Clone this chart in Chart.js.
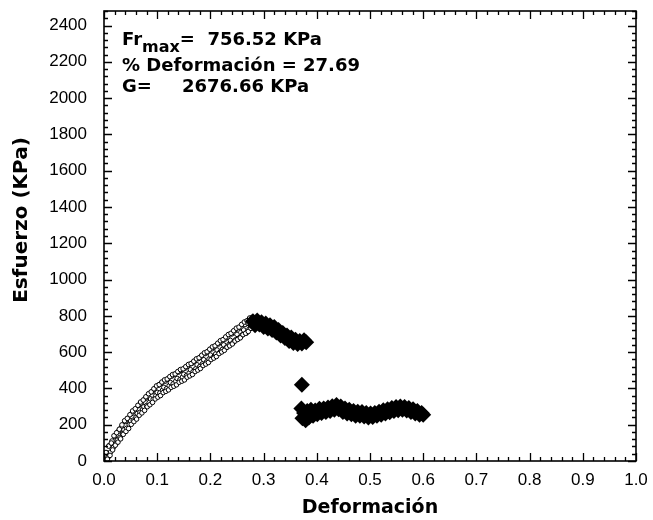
<!DOCTYPE html>
<html>
<head>
<meta charset="utf-8">
<script src="https://cdn.jsdelivr.net/npm/chart.js@4.4.1/dist/chart.umd.min.js"></script>
<style>
html,body{margin:0;padding:0;background:#fff;}
#c{display:block;}
</style>
</head>
<body>
<canvas id="c" width="653" height="520"></canvas>
<script>
// ---- data ----
const xTitle = 'Deformación';
const yTitle = 'Esfuerzo (KPa)';
const xRange = [0, 1.0];
const yRange = [0, 2480];
const xTickStep = 0.1;
const yTickStep = 200;
const frMaxText = '756.52 KPa';
const deformText = '% Deformación = 27.69';
const gText = '2676.66 KPa';

// loading stage (open markers), first strand of the speckled band
const loadingX = [0.0000,0.0025,0.0050,0.0075,0.0100,0.0125,0.0150,0.0175,0.0200,0.0225,0.0250,0.0275,0.0300,0.0325,0.0350,0.0375,0.0400,0.0425,0.0450,0.0475,0.0500,0.0525,0.0550,0.0575,0.0600,0.0625,0.0650,0.0675,0.0700,0.0725,0.0750,0.0775,0.0800,0.0825,0.0850,0.0875,0.0900,0.0925,0.0950,0.0975,0.1000,0.1025,0.1050,0.1075,0.1100,0.1125,0.1150,0.1175,0.1200,0.1225,0.1250,0.1275,0.1300,0.1325,0.1350,0.1375,0.1400,0.1425,0.1450,0.1475,0.1500,0.1525,0.1550,0.1575,0.1600,0.1625,0.1650,0.1675,0.1700,0.1725,0.1750,0.1775,0.1800,0.1825,0.1850,0.1875,0.1900,0.1925,0.1950,0.1975,0.2000,0.2025,0.2050,0.2075,0.2100,0.2125,0.2150,0.2175,0.2200,0.2225,0.2250,0.2275,0.2300,0.2325,0.2350,0.2375,0.2400,0.2425,0.2450,0.2475,0.2500,0.2525,0.2550,0.2575,0.2600,0.2625,0.2650,0.2675,0.2700,0.2725,0.2750,0.2775,0.2800];
const loadingY = [10,-15,45,20,85,50,110,75,135,95,115,165,130,185,150,172,218,180,235,200,222,262,225,275,240,262,305,268,318,282,300,345,305,355,322,342,382,340,395,360,378,418,375,428,390,406,440,398,452,415,432,468,425,478,440,455,490,447,500,462,478,512,470,522,485,503,538,492,548,508,530,565,520,575,535,558,592,545,602,562,584,618,570,628,590,612,645,598,655,615,640,672,625,682,642,665,700,652,708,668,698,728,680,735,695,722,752,705,760,725,748,782,760];
// second strand of the same band
const loadingX2 = [0.00125,0.00375,0.00625,0.00875,0.01125,0.01375,0.01625,0.01875,0.02125,0.02375,0.02625,0.02875,0.03125,0.03375,0.03625,0.03875,0.04125,0.04375,0.04625,0.04875,0.05125,0.05375,0.05625,0.05875,0.06125,0.06375,0.06625,0.06875,0.07125,0.07375,0.07625,0.07875,0.08125,0.08375,0.08625,0.08875,0.09125,0.09375,0.09625,0.09875,0.10125,0.10375,0.10625,0.10875,0.11125,0.11375,0.11625,0.11875,0.12125,0.12375,0.12625,0.12875,0.13125,0.13375,0.13625,0.13875,0.14125,0.14375,0.14625,0.14875,0.15125,0.15375,0.15625,0.15875,0.16125,0.16375,0.16625,0.16875,0.17125,0.17375,0.17625,0.17875,0.18125,0.18375,0.18625,0.18875,0.19125,0.19375,0.19625,0.19875,0.20125,0.20375,0.20625,0.20875,0.21125,0.21375,0.21625,0.21875,0.22125,0.22375,0.22625,0.22875,0.23125,0.23375,0.23625,0.23875,0.24125,0.24375,0.24625,0.24875,0.25125,0.25375,0.25625,0.25875,0.26125,0.26375,0.26625,0.26875,0.27125,0.27375,0.27625,0.27875];
const loadingY2 = [-10,47,10,82,31,99,61,139,87,156,104,175,122,199,147,222,163,235,179,255,202,276,217,288,231,307,252,325,265,336,279,354,299,371,310,381,323,398,342,414,352,421,361,435,377,447,384,452,392,465,406,476,412,480,420,493,434,504,440,508,447,520,462,532,469,537,477,550,493,563,501,569,510,583,526,596,534,602,543,616,559,629,567,635,576,649,592,663,601,669,610,684,627,697,635,704,645,718,661,732,670,738,679,753,696,766,704,773,714,788,731,792];

// post-peak stage (solid diamonds)
const failureX = [0.280,0.284,0.288,0.292,0.296,0.300,0.304,0.308,0.312,0.316,0.320,0.324,0.328,0.332,0.336,0.340,0.344,0.348,0.352,0.356,0.360,0.364,0.368,0.372,0.376,0.380,
  0.372,
  0.371,0.373,0.376,0.379,0.382,0.385,0.389,0.393,0.397,0.401,0.405,0.409,0.413,0.417,0.421,0.425,0.429,0.433,0.437,0.441,0.445,0.449,0.453,0.457,0.461,0.465,0.469,0.473,0.477,0.481,0.485,0.489,0.493,0.497,0.501,0.505,0.509,0.513,0.517,0.521,0.525,0.529,0.533,0.537,0.541,0.545,0.549,0.553,0.557,0.561,0.565,0.569,0.573,0.577,0.581,0.585,0.589,0.593,0.597,0.600];
const failureY = [770,748,775,752,765,738,758,730,748,722,738,708,722,692,705,678,692,662,680,650,668,645,662,648,665,655,
  420,
  290,235,265,225,275,240,282,250,278,258,288,265,290,270,295,275,302,282,308,285,300,270,290,262,282,258,275,250,272,250,270,245,265,240,262,242,265,250,272,255,280,262,285,268,292,275,298,280,300,282,298,278,292,270,285,262,275,255,265,255];

const loadingPts = loadingX.map((x, i) => ({x, y: loadingY[i]}))
  .concat(loadingX2.map((x, i) => ({x, y: loadingY2[i]})));
const failurePts = failureX.map((x, i) => ({x, y: failureY[i]}));

const TICKFONT = "'Liberation Sans', Arial, Helvetica, sans-serif";
const BOLDFONT = "'DejaVu Sans', Verdana, sans-serif";

// inward ticks on all four sides, frame, y title and the info text
const frameTicks = {
  id: 'frameTicks',
  afterDraw(chart) {
    const {ctx, chartArea: a, scales: {x, y}} = chart;
    ctx.save();
    ctx.strokeStyle = '#000';
    ctx.lineWidth = 1.3;
    for (let i = 0; i <= 50; i++) {
      const px = Math.round(x.getPixelForValue(i / 50)) + 0.5;
      const len = (i % 5 === 0) ? 8 : 4;
      ctx.beginPath();
      ctx.moveTo(px, a.bottom); ctx.lineTo(px, a.bottom - len);
      ctx.moveTo(px, a.top); ctx.lineTo(px, a.top + len);
      ctx.stroke();
    }
    for (let i = 0; i * 40 <= yRange[1]; i++) {
      const py = Math.round(y.getPixelForValue(i * 40)) + 0.5;
      const len = (i % 5 === 0) ? 8 : 4;
      ctx.beginPath();
      ctx.moveTo(a.left, py); ctx.lineTo(a.left + len, py);
      ctx.moveTo(a.right, py); ctx.lineTo(a.right - len, py);
      ctx.stroke();
    }
    ctx.lineWidth = 1.6;
    ctx.strokeRect(a.left, a.top, a.right - a.left, a.bottom - a.top);

    ctx.fillStyle = '#000';
    // y axis title
    ctx.save();
    ctx.translate(22, (a.top + a.bottom) / 2 - 16);
    ctx.rotate(-Math.PI / 2);
    ctx.font = "bold 20px " + BOLDFONT;
    ctx.textAlign = 'center';
    ctx.textBaseline = 'middle';
    ctx.fillText(yTitle, 0, 0);
    ctx.restore();

    ctx.textBaseline = 'alphabetic';
    ctx.textAlign = 'left';
    const tx = a.left + 18;
    ctx.font = "bold 18px " + BOLDFONT;
    ctx.fillText('Fr', tx, a.top + 34);
    let w = ctx.measureText('Fr').width;
    ctx.font = "bold 16px " + BOLDFONT;
    ctx.fillText('max', tx + w, a.top + 41);
    w += ctx.measureText('max').width;
    ctx.font = "bold 18px " + BOLDFONT;
    ctx.fillText('=  ' + frMaxText, tx + w, a.top + 34);
    ctx.fillText(deformText, tx, a.top + 60);
    ctx.fillText('G=', tx, a.top + 81);
    ctx.fillText(gText, tx + 60, a.top + 81);
    ctx.restore();
  }
};

new Chart(document.getElementById('c'), {
  type: 'scatter',
  data: {
    datasets: [
      {
        label: 'carga',
        data: loadingPts,
        pointStyle: 'circle',
        pointRadius: 2.3,
        pointBorderWidth: 1,
        pointBorderColor: '#000',
        pointBackgroundColor: '#fff',
        showLine: false,
        order: 2
      },
      {
        label: 'falla',
        data: failurePts,
        pointStyle: 'rectRot',
        pointRadius: 8,
        pointBorderWidth: 0,
        pointBorderColor: '#000',
        pointBackgroundColor: '#000',
        showLine: false,
        order: 1
      }
    ]
  },
  options: {
    responsive: false,
    animation: false,
    events: [],
    layout: {padding: {left: 0, top: 11, right: 17, bottom: 0}},
    plugins: {legend: {display: false}, tooltip: {enabled: false}},
    scales: {
      x: {
        type: 'linear',
        min: xRange[0], max: xRange[1],
        grid: {display: false, drawTicks: false},
        border: {display: false},
        ticks: {
          stepSize: xTickStep,
          includeBounds: false,
          padding: 9,
          color: '#000',
          font: {family: TICKFONT, size: 17},
          callback: v => Number(v).toFixed(1)
        },
        title: {display: true, text: xTitle, color: '#000',
          font: {family: BOLDFONT, size: 19, weight: 'bold'}, padding: {top: 0, bottom: 1}},
        afterFit: s => { s.height = 59; s.paddingLeft = 0; s.paddingRight = 0; }
      },
      y: {
        type: 'linear',
        min: yRange[0], max: yRange[1],
        grid: {display: false, drawTicks: false},
        border: {display: false},
        ticks: {
          stepSize: yTickStep,
          includeBounds: false,
          padding: 17,
          color: '#000',
          font: {family: TICKFONT, size: 17},
          callback: v => String(v)
        },
        title: {display: false, text: yTitle},
        afterFit: s => { s.width = 104; s.paddingTop = 0; s.paddingBottom = 0; }
      }
    }
  },
  plugins: [frameTicks]
});
</script>
</body>
</html>
